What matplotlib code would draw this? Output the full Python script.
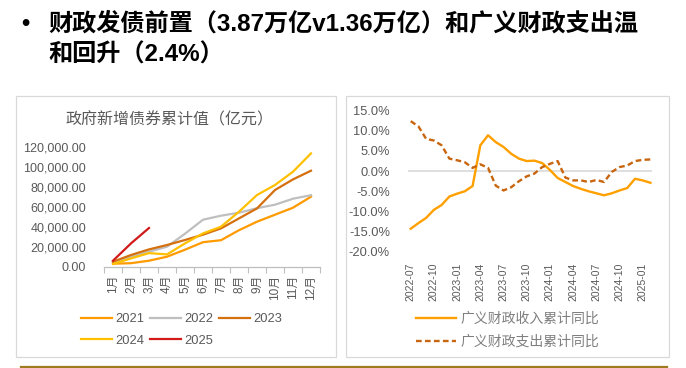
import matplotlib
matplotlib.use("Agg")
import matplotlib.pyplot as plt
from matplotlib.patches import Rectangle
from matplotlib.lines import Line2D
from matplotlib.ticker import FuncFormatter

# ---- data ----
months = ["1月", "2月", "3月", "4月", "5月", "6月", "7月", "8月", "9月", "10月", "11月", "12月"]
bond_2021 = [3000, 3500, 6000, 10000, 17000, 24500, 26500, 36500, 45000, 52000, 59000, 70000]
bond_2022 = [4000, 10000, 15000, 20000, 33000, 47000, 51000, 54000, 58500, 62000, 68000, 71500]
bond_2023 = [5000, 11700, 17300, 21700, 26700, 32000, 38300, 48300, 58300, 76700, 87300, 96000]
bond_2024 = [2700, 8300, 13600, 12300, 23300, 33300, 40000, 55000, 71700, 81700, 95000, 113300]
bond_2025 = [6000, 23300, 38700]

dates = ["2022-07", "2022-08", "2022-09", "2022-10", "2022-11", "2022-12",
         "2023-01", "2023-02", "2023-03", "2023-04", "2023-05", "2023-06",
         "2023-07", "2023-08", "2023-09", "2023-10", "2023-11", "2023-12",
         "2024-01", "2024-02", "2024-03", "2024-04", "2024-05", "2024-06",
         "2024-07", "2024-08", "2024-09", "2024-10", "2024-11", "2024-12",
         "2025-01", "2025-02"]
revenue = [-14.3, -12.9, -11.6, -9.6, -8.4, -6.3, -5.6, -5.0, -3.7, 6.4, 8.9, 7.2,
           6.0, 4.3, 3.1, 2.5, 2.6, 2.0, 0.3, -1.7, -2.7, -3.7, -4.4, -5.0,
           -5.5, -6.0, -5.5, -4.8, -4.2, -1.9, -2.3, -2.9]
spending = [12.4, 11.1, 8.0, 7.6, 6.4, 3.1, 2.7, 2.2, 0.8, 1.7, 0.8, -3.6,
            -4.8, -4.0, -2.5, -1.3, -0.6, 1.0, 1.8, 2.5, -1.6, -2.3, -2.3, -2.7,
            -2.2, -2.7, -0.2, 1.0, 1.4, 2.5, 2.8, 2.9]

W, H = 686, 368
fig = plt.figure(figsize=(W / 100, H / 100), dpi=100)
fig.patch.set_facecolor("white")

fam = ["Liberation Sans", "Noto Sans CJK SC"]
cjk = ["Noto Sans CJK SC", "DejaVu Sans"]
tc = "#595959"


def fx(px):
    return px / W


def fy(py):
    return 1 - py / H


# title
fig.text(fx(25), fy(24), "•", fontsize=17, fontweight="bold", ha="center", va="center", family=fam)
fig.text(fx(48), fy(24), "财政发债前置（3.87万亿v1.36万亿）和广义财政支出温",
         fontsize=17.4, fontweight="bold", ha="left", va="center", family=fam)
fig.text(fx(48), fy(55), "和回升（2.4%）",
         fontsize=17.4, fontweight="bold", ha="left", va="center", family=fam)

# panel frames
for x0, x1 in [(16, 336), (346, 669)]:
    fig.add_artist(Rectangle((fx(x0), fy(357)), fx(x1 - x0), (357 - 96) / H,
                             transform=fig.transFigure, fill=False, ec="#D9D9D9", lw=0.9))
fig.add_artist(Line2D([fx(21), fx(667)], [fy(366.8), fy(366.8)], transform=fig.transFigure,
                      color="#9E7B1F", lw=1.6))

# ---- left chart ----
ax1 = fig.add_axes([fx(104), fy(266.7), fx(216), 120 / H])
x = list(range(12))
ax1.plot(x, bond_2021, color="#FF9A00", lw=1.6, label="2021")
ax1.plot(x, bond_2022, color="#BFBFBF", lw=1.6, label="2022")
ax1.plot(x, bond_2023, color="#D5700E", lw=1.6, label="2023")
ax1.plot(x, bond_2024, color="#FFC000", lw=1.6, label="2024")
ax1.plot(range(len(bond_2025)), bond_2025, color="#D21A1A", lw=1.6, label="2025")
ax1.set_xlim(-0.5, 11.5)
ax1.set_ylim(0, 120000)
ax1.set_yticks(range(0, 120001, 20000))
ax1.yaxis.set_major_formatter(FuncFormatter(lambda v, p: f"{v:,.2f}"))
ax1.set_xticks(x)
ax1.set_xticklabels(months, rotation=90, family=fam, fontsize=8.5, color=tc)
ax1.set_xticks([i - 0.5 for i in range(13)], minor=True)
ax1.tick_params(axis="x", which="major", length=0, pad=6)
ax1.tick_params(axis="x", which="minor", length=4, color="#BFBFBF", width=0.8)
ax1.tick_params(axis="y", length=0, pad=13, labelsize=9, labelcolor=tc)
for lbl in ax1.get_yticklabels():
    lbl.set_family(fam)
for s in ["top", "right", "left"]:
    ax1.spines[s].set_visible(False)
ax1.spines["bottom"].set_color("#BFBFBF")
ax1.spines["bottom"].set_linewidth(0.9)
ax1.patch.set_alpha(0)
fig.text(fx(170), fy(120), "政府新增债券累计值（亿元）", fontsize=11.5, color=tc,
         ha="center", va="center", family=cjk)

h, l = ax1.get_legend_handles_labels()
order = [0, 3, 1, 4, 2]
fig.legend([h[i] for i in order], [l[i] for i in order], ncol=3, loc="upper left",
           bbox_to_anchor=(fx(81), fy(313)), frameon=False, prop={"family": fam, "size": 9.3},
           labelcolor=tc, handlelength=2.4, handletextpad=0.25, columnspacing=0.45,
           labelspacing=0.75, borderpad=0, borderaxespad=0)

# ---- right chart ----
ax2 = fig.add_axes([fx(408), fy(251.7), fx(244), 141 / H])
xi = list(range(len(dates)))
ax2.plot(xi, revenue, color="#FFA000", lw=1.7, label="广义财政收入累计同比")
ax2.plot(xi, spending, color="#C8650E", lw=1.7, ls=(0, (2.4, 1.4)), label="广义财政支出累计同比")
ax2.axhline(0, color="#D9D9D9", lw=1.2, zorder=0)
ax2.set_xlim(-0.35, 31.2)
ax2.set_ylim(-20, 15)
ax2.set_yticks(range(-20, 16, 5))
ax2.yaxis.set_major_formatter(FuncFormatter(lambda v, p: f"{v:.1f}%"))
ax2.set_xticks(xi[::3])
ax2.set_xticklabels(dates[::3], rotation=90, family=fam, fontsize=7.5, color=tc)
ax2.tick_params(axis="x", length=0, pad=8)
ax2.tick_params(axis="y", length=0, pad=13, labelsize=9.3, labelcolor=tc)
for lbl in ax2.get_yticklabels():
    lbl.set_family(fam)
for s in ax2.spines.values():
    s.set_visible(False)
ax2.patch.set_alpha(0)
fig.legend(*ax2.get_legend_handles_labels(), ncol=1, loc="upper left",
           bbox_to_anchor=(fx(416), fy(312)), frameon=False, prop={"family": cjk, "size": 10},
           labelcolor="#7F7F7F", handlelength=2.9, handletextpad=0.3,
           labelspacing=0.65, borderpad=0, borderaxespad=0)

fig.savefig("out.png", dpi=100, facecolor="white")
